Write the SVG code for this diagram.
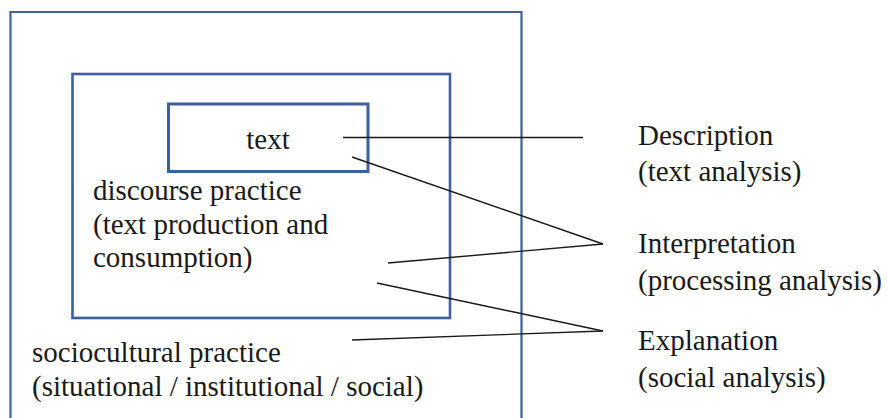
<svg xmlns="http://www.w3.org/2000/svg" width="887" height="418" viewBox="0 0 887 418">
<style>
.box{fill:none;stroke:#3f5f9d}
.ln{stroke:#1a1a1a;stroke-width:1.4;fill:none}
text{font-family:"Liberation Serif","Times New Roman",serif;font-size:29px;fill:#1a1a1a}
</style>
<rect width="887" height="418" fill="#fff"/>
<g id="sociocultural">
<path class="box" stroke-width="2.2" d="M10.5,420 V12 H521.5 V420"/>
<text x="32" y="362">sociocultural practice</text>
<text x="32" y="396">(situational / institutional / social)</text>
</g>
<g id="discourse">
<rect class="box" stroke-width="2.6" x="72.5" y="74" width="377.5" height="244"/>
<text x="93" y="200">discourse practice</text>
<text x="93" y="234">(text production and</text>
<text x="93" y="267">consumption)</text>
</g>
<g id="text">
<rect class="box" stroke-width="3" x="168.5" y="104" width="199.5" height="67.5"/>
<text x="268" y="149" text-anchor="middle">text</text>
</g>
<g id="description">
<text x="638" y="145">Description</text>
<text x="638" y="181">(text analysis)</text>
</g>
<g id="interpretation">
<text x="638" y="253">Interpretation</text>
<text x="638" y="290">(processing analysis)</text>
</g>
<g id="explanation">
<text x="638" y="350">Explanation</text>
<text x="638" y="387">(social analysis)</text>
</g>
<g id="connectors">
<line class="ln" x1="343" y1="137.5" x2="583" y2="137.5"/>
<line class="ln" x1="352" y1="157" x2="603" y2="244"/>
<line class="ln" x1="388" y1="263" x2="603" y2="244"/>
<line class="ln" x1="377" y1="283" x2="603" y2="331"/>
<line class="ln" x1="352" y1="340" x2="603" y2="331"/>
</g>
</svg>
